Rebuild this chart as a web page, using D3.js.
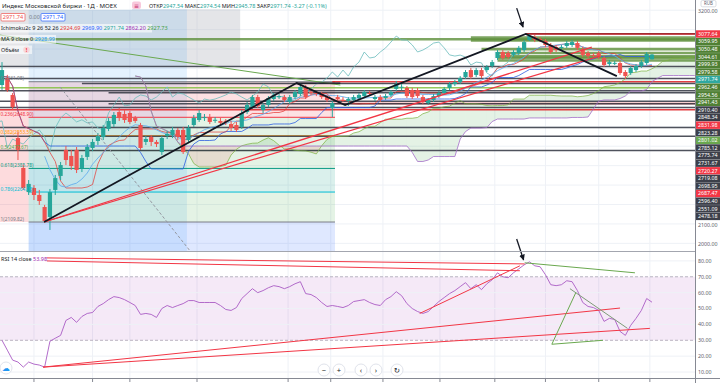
<!DOCTYPE html>
<html>
<head>
<meta charset="utf-8">
<script src="https://cdn.jsdelivr.net/npm/d3@7"></script>
<style>
  body { margin: 0; background: #fff; }
  svg { display: block; font-family: "Noto Sans", "DejaVu Sans", sans-serif; }
</style>
</head>
<body>
<div id="container"></div>
<script>
// daily candles of the MOEX index
var opens = [2815, 2851, 2764, 2542, 2388, 2264, 2285, 2249, 2187, 2136,
  2275, 2347, 2481, 2450, 2481, 2388, 2445, 2491, 2527, 2547,
  2589, 2614, 2676, 2666, 2671, 2645, 2609, 2522, 2548, 2522,
  2470, 2553, 2558, 2584, 2584, 2532, 2609, 2635, 2645, 2650,
  2635, 2630, 2631, 2614, 2609, 2599, 2676, 2702, 2753, 2686,
  2712, 2743, 2753, 2753, 2728, 2753, 2769, 2805, 2779, 2774,
  2769, 2753, 2697, 2753, 2738, 2733, 2738, 2748, 2758, 2774,
  2743, 2753, 2748, 2764, 2795, 2805, 2800, 2789, 2789, 2753,
  2722, 2738, 2758, 2774, 2800, 2820, 2830, 2856, 2892, 2867,
  2892, 2892, 2913, 2954, 2985, 2980, 2970, 2980, 2995, 3047,
  3062, 3052, 3042, 3021, 3011, 3006, 3016, 3021, 3031, 3000,
  2980, 2970, 2980, 2954, 2923, 2928, 2928, 2882, 2877, 2892,
  2913, 2928, 2947.54];
var highs = [2933, 2867, 2774, 2573, 2403, 2326, 2300, 2275, 2198, 2280,
  2352, 2419, 2501, 2481, 2496, 2455, 2511, 2537, 2568, 2609,
  2645, 2676, 2697, 2686, 2681, 2656, 2620, 2553, 2558, 2532,
  2553, 2578, 2599, 2594, 2599, 2609, 2661, 2686, 2666, 2666,
  2650, 2645, 2640, 2630, 2625, 2686, 2728, 2764, 2764, 2722,
  2758, 2774, 2769, 2764, 2764, 2789, 2825, 2815, 2789, 2784,
  2779, 2764, 2733, 2764, 2753, 2753, 2764, 2774, 2789, 2784,
  2764, 2764, 2769, 2789, 2836, 2820, 2810, 2800, 2800, 2764,
  2748, 2769, 2784, 2805, 2830, 2841, 2861, 2892, 2903, 2903,
  2903, 2918, 2944, 2995, 2995, 2990, 2995, 3016, 3047, 3077.64,
  3072, 3062, 3052, 3031, 3021, 3021, 3042, 3047, 3042, 3011,
  2990, 2980, 2990, 2964, 2944, 2939, 2939, 2892, 2913, 2923,
  2944, 2985, 2974.54];
var lows = [2790, 2779, 2686, 2429, 2275, 2249, 2223, 2198, 2109.82, 2069,
  2249, 2326, 2403, 2378, 2362, 2367, 2429, 2475, 2506, 2532,
  2578, 2599, 2630, 2620, 2614, 2620, 2481, 2506, 2501, 2496,
  2455, 2537, 2542, 2532, 2460, 2522, 2599, 2625, 2630, 2614,
  2620, 2609, 2609, 2578, 2573, 2589, 2666, 2692, 2697, 2671,
  2702, 2733, 2743, 2728, 2717, 2743, 2758, 2743, 2764, 2758,
  2743, 2728, 2650, 2733, 2728, 2707, 2728, 2738, 2748, 2758,
  2733, 2728, 2738, 2753, 2784, 2789, 2748, 2743, 2748, 2717,
  2712, 2728, 2748, 2764, 2789, 2810, 2820, 2846, 2846, 2856,
  2851, 2882, 2903, 2944, 2944, 2949, 2959, 2970, 2985, 3042,
  3036, 3036, 3011, 2975, 2985, 2995, 3006, 3011, 2995, 2959,
  2954, 2959, 2949, 2908, 2913, 2918, 2867, 2846, 2867, 2882,
  2903, 2918, 2945.78];
var closes = [2892, 2789, 2702, 2481, 2285, 2306, 2249, 2218, 2115, 2264,
  2336, 2403, 2429, 2398, 2378, 2439, 2496, 2522, 2553, 2594,
  2630, 2661, 2645, 2635, 2625, 2630, 2491, 2537, 2522, 2511,
  2542, 2563, 2584, 2548, 2470, 2594, 2645, 2671, 2650, 2625,
  2636, 2620, 2625, 2594, 2584, 2671, 2712, 2753, 2707, 2712,
  2748, 2764, 2758, 2738, 2753, 2779, 2805, 2753, 2774, 2769,
  2753, 2738, 2722, 2743, 2737, 2743, 2753, 2764, 2779, 2769,
  2753, 2738, 2758, 2779, 2820, 2806, 2758, 2753, 2758, 2728,
  2738, 2758, 2774, 2795, 2820, 2830, 2851, 2882, 2856, 2892,
  2861, 2908, 2933, 2985, 2954, 2959, 2985, 3006, 3036, 3067,
  3047, 3046, 3021, 2985, 2995, 3011, 3031, 3036, 3006, 2970,
  2964, 2969, 2959, 2918, 2933, 2929, 2877, 2861, 2903, 2913,
  2933, 2975.01, 2971.74];

// RSI 14 close, one value per candle
var rsiValues = [30, 23.8, 17.5, 16.3, 13.1, 16.3, 15, 14.4, 13.1, 29.4,
  31.3, 33.1, 42.5, 44.4, 41.3, 45, 46.9, 47.5, 51.3, 53.1,
  55.6, 57.5, 56.9, 55.6, 53.8, 51.9, 46.3, 46.9, 46.3, 44.4,
  50, 51.9, 50.6, 51.9, 53.1, 55, 55, 53.8, 53.8, 53.8,
  53.8, 51.9, 49.4, 48.8, 50.6, 56.3, 59.4, 62.5, 60, 61.3,
  63.1, 64.4, 63.8, 62.5, 63.8, 65.6, 66.9, 59.4, 58.8, 56.9,
  53.8, 51.3, 51.9, 51.3, 50.6, 51.9, 54.4, 55, 55.6, 53.8,
  52.5, 51.9, 55.6, 57.5, 60.6, 58.1, 53.1, 50, 48.1, 46.9,
  48.1, 51.3, 54.4, 56.9, 59.4, 61.3, 63.8, 66.3, 62.5, 65,
  61.9, 65.6, 68.1, 72.5, 70, 69.4, 72.5, 75, 77.5, 79.4,
  76.9, 76.3, 71.3, 65, 64.4, 65, 67.5, 66.9, 61.3, 53.8,
  51.3, 50.6, 48.8, 41.9, 43.8, 43.1, 35.6, 33.1, 39.4, 43.8,
  48.8, 56.3, 53.98];

// horizontal levels drawn on the chart: price, kind, first bar
var levelPrices = [3079, 3077.64, 3059.95, 3050.48, 3044.61, 2999.93, 2979.58, 2962.46, 2954.56, 2941.43,
  2910.40, 2848.34, 2831.98, 2823.28, 2801.02, 2785.12, 2775.74, 2731.67, 2720.27, 2719.08,
  2698.95, 2687.47, 2596.40, 2551.09, 2478.18];
var levelKinds = ["black", "red", "green", "green", "green", "green", "green", "green", "green", "green",
  "dark", "dark", "red", "dark", "lime", "dark", "dark", "dark", "red", "dark",
  "dark", "red", "dark", "dark", "dark"];
var levelFrom = [98.3, 98.3, 88, -5, 88, 90, 93, 93, 93, 93,
  -5, -5, 62, 15, -5, -5, 20, -5, 62, 20,
  -5, -5, -5, -5, -5];

// fibonacci retracement
var fibNames = ["0", "0.236", "0.382", "0.5", "0.618", "0.786", "1"];
var fibPrices = [2831.98, 2648.90, 2553.59, 2477.67, 2385.78, 2264.18, 2109.82];
var fibBars = [5, 62.5];

// trend lines as [bar, price]
var blackPath = [[7.9, 2109.82], [55.3, 2825], [64.4, 2712], [98.3, 3077.64], [115.4, 2861]];
var blackFlat = [[55.3, 2825], [63.5, 2825]];
var redLineA = [[7.9, 2109.82], [110.7, 3010]];
var redLineB = [[7.9, 2109.82], [112.2, 2964]];
var greenLine = [[-0.4, 3072], [63.5, 2815]];
var dashLine = [[10.9, 2805], [35.3, 1961]];
var priceArrow = [[96.6, 3211], [97.8, 3113]];

// trend lines on the RSI pane as [bar, rsi]
var rsiRedA = [[7.7, 13.1], [116, 50.3]];
var rsiRedB = [[7.7, 13.1], [121.6, 37.5]];
var rsiRedUp = [[78.4, 46.9], [97.2, 76.9]];
var rsiRedTop1 = [[8.1, 81.9], [98.1, 78.1]];
var rsiRedTop2 = [[8.1, 80], [97.2, 73.8]];
var rsiGreenA = [[98.1, 78.8], [118.8, 72.5]];
var rsiGreenB = [[107.7, 60], [103.2, 27.5], [112.8, 30]];
var rsiGreenC = [[106.6, 62.5], [117.4, 37.5]];
var rsiArrow = [[96.6, 93.8], [97.9, 80.6]];

// shaded zones: [bar from, bar to, price top, price bottom]
var grayZone = [-1, 44.7, 3205, 2910];
var blueZone = [5, 34.7, 3205, 1961];
var pinkZone = [-1, 5, 2687.47, 2109.82];

// time grid (bar positions of the date ticks)
var gridBars = [6, 17, 24, 36.6, 53.7, 61.7, 71.5, 82.2, 92.5, 102, 112, 121.6];
var priceTicks = d3.range(2000, 3300, 100);
var rsiTicks = [10, 20, 30, 40, 50, 60, 70, 80];

var plotRight = 695, priceBottom = 251, rsiTop = 252, rsiBottom = 378;
var up = "#26a69a", down = "#ef5350";

var x = d3.scaleLinear().domain([0, 122]).range([2, 652]);
var y = d3.scaleLinear().domain([1960.7, 3252.6]).range([priceBottom, 0]);
var yR = d3.scaleLinear().domain([6.25, 85.6]).range([rsiBottom, rsiTop]);

var svg = d3.select("div#container").append("svg")
  .attr("width", 720).attr("height", 383);

var defs = svg.append("defs");
defs.append("clipPath").attr("id", "clipP").append("rect")
  .attr("x", 0).attr("y", 0).attr("width", plotRight).attr("height", priceBottom);
defs.append("clipPath").attr("id", "clipR").append("rect")
  .attr("x", 0).attr("y", rsiTop).attr("width", plotRight).attr("height", rsiBottom - rsiTop);
defs.append("marker").attr("id", "arrow").attr("viewBox", "0 0 10 10")
  .attr("refX", 9).attr("refY", 5).attr("markerWidth", 4.5).attr("markerHeight", 4.5)
  .attr("orient", "auto")
  .append("path").attr("d", "M0,0L10,5L0,10z").attr("fill", "#131722");

svg.append("rect").attr("width", 720).attr("height", 383).attr("fill", "#fff");

var pline = d3.line().x(function(d) { return x(d[0]); }).y(function(d) { return y(d[1]); });
var rline = d3.line().x(function(d) { return x(d[0]); }).y(function(d) { return yR(d[1]); });

// ---------- price pane ----------
var gp = svg.append("g").attr("clip-path", "url(#clipP)");

gp.selectAll(".vg").data(gridBars).join("line")
  .attr("x1", function(d) { return x(d); }).attr("x2", function(d) { return x(d); })
  .attr("y1", 0).attr("y2", priceBottom)
  .attr("stroke", "#eef1f6");
gp.selectAll(".hg").data(priceTicks).join("line")
  .attr("x1", 0).attr("x2", plotRight)
  .attr("y1", function(d) { return y(d); }).attr("y2", function(d) { return y(d); })
  .attr("stroke", "#eef1f6");

function zone(z, color, op) {
  gp.append("rect")
    .attr("x", x(z[0])).attr("width", x(z[1]) - x(z[0]))
    .attr("y", y(z[2])).attr("height", y(z[3]) - y(z[2]))
    .attr("fill", color).attr("fill-opacity", op);
}
zone(grayZone, "#b2b5be", 0.35);
zone(blueZone, "#2196f3", 0.12);
zone(pinkZone, "#f23645", 0.18);

// fib bands
var fibColors = ["#f23645", "#4caf50", "#4caf50", "#4caf50", "#089981", "#4caf50", "#2962ff"];
var fibLineColors = ["#787b86", "#f23645", "#ff9800", "#4caf50", "#089981", "#00bcd4", "#787b86"];
var fibBandEdges = fibPrices.concat([1960]);
fibPrices.forEach(function(p, k) {
  gp.append("rect")
    .attr("x", x(fibBars[0])).attr("width", x(fibBars[1]) - x(fibBars[0]))
    .attr("y", y(p)).attr("height", y(fibBandEdges[k + 1]) - y(p))
    .attr("fill", fibColors[k]).attr("fill-opacity", 0.15);
});
gp.selectAll(".fibl").data(fibPrices).join("line")
  .attr("x1", x(fibBars[0])).attr("x2", x(fibBars[1]))
  .attr("y1", function(d) { return y(d); }).attr("y2", function(d) { return y(d); })
  .attr("stroke", function(d, k) { return fibLineColors[k]; }).attr("stroke-width", 1);

// ichimoku from the candles
function mid(len, i) {
  var s = Math.max(0, i - len + 1);
  return (d3.max(highs.slice(s, i + 1)) + d3.min(lows.slice(s, i + 1))) / 2;
}
var bars = d3.range(closes.length);
var tenkan = bars.map(function(i) { return mid(9, i); });
var kijun = bars.map(function(i) { return mid(26, i); });
var spanA = bars.map(function(i) { return (tenkan[i] + kijun[i]) / 2; });
var spanB = bars.map(function(i) { return mid(52, i); });
var shift = 25;

gp.append("g").selectAll("path").data(bars.slice(0, -1)).join("path")
  .attr("d", function(i) {
    return "M" + x(i + shift) + "," + y(spanA[i]) +
      "L" + x(i + 1 + shift) + "," + y(spanA[i + 1]) +
      "L" + x(i + 1 + shift) + "," + y(spanB[i + 1]) +
      "L" + x(i + shift) + "," + y(spanB[i]) + "Z";
  })
  .attr("fill", function(i) { return spanA[i] + spanA[i + 1] >= spanB[i] + spanB[i + 1] ? "#43a047" : "#ef5350"; })
  .attr("fill-opacity", 0.14);

// horizontal levels
var levelStroke = { black: "#131722", red: "#e0282e", green: "#5d8f3a", dark: "#3c3f4a", lime: "#8bc34a" };
var levelWidth = { black: 1.4, red: 1.4, green: 2.6, dark: 1.5, lime: 1.3 };
gp.selectAll(".lvl").data(levelPrices).join("line")
  .attr("x1", function(d, k) { return x(levelFrom[k]); }).attr("x2", plotRight)
  .attr("y1", function(d) { return y(d); }).attr("y2", function(d) { return y(d); })
  .attr("stroke", function(d, k) { return levelStroke[levelKinds[k]]; })
  .attr("stroke-width", function(d, k) { return levelWidth[levelKinds[k]]; })
  .attr("stroke-opacity", function(d, k) { return levelKinds[k] === "green" ? 0.8 : 0.9; });

// indicator lines
function series(vals, off, start) {
  return bars.filter(function(i) { return i >= start; }).map(function(i) { return [i + off, vals[i]]; });
}
var ma9 = bars.map(function(i) { return i < 8 ? null : d3.mean(closes.slice(i - 8, i + 1)); });
[[series(closes, -shift, 0), "#6cbcbc", 0.9],
 [series(spanA, shift, 0), "#7cb342", 0.8],
 [series(spanB, shift, 0), "#a56fc8", 0.9],
 [series(kijun, 0, 0), "#2f5fe0", 0.9],
 [series(tenkan, 0, 0), "#e53935", 0.8],
 [series(ma9, 0, 8), "#5aa9ee", 0.9]].forEach(function(s) {
  gp.append("path").attr("d", pline(s[0])).attr("fill", "none")
    .attr("stroke", s[1]).attr("stroke-opacity", s[2]).attr("stroke-width", 0.9);
});

// candles
var candle = gp.append("g").selectAll("g").data(bars).join("g");
candle.append("line")
  .attr("x1", function(i) { return x(i); }).attr("x2", function(i) { return x(i); })
  .attr("y1", function(i) { return y(highs[i]); }).attr("y2", function(i) { return y(lows[i]); })
  .attr("stroke", function(i) { return closes[i] >= opens[i] ? up : down; });
candle.append("rect")
  .attr("x", function(i) { return x(i) - 2.1; }).attr("width", 4.2)
  .attr("y", function(i) { return y(Math.max(opens[i], closes[i])); })
  .attr("height", function(i) { return Math.max(1, Math.abs(y(opens[i]) - y(closes[i]))); })
  .attr("fill", function(i) { return closes[i] >= opens[i] ? up : down; });

// drawings
gp.append("path").attr("d", pline(greenLine)).attr("fill", "none").attr("stroke", "#6aa84f").attr("stroke-width", 1);
gp.append("path").attr("d", pline(dashLine)).attr("fill", "none").attr("stroke", "#9598a1").attr("stroke-dasharray", "3,2");
gp.append("path").attr("d", pline(redLineA)).attr("fill", "none").attr("stroke", "#f23645").attr("stroke-width", 1.2);
gp.append("path").attr("d", pline(redLineB)).attr("fill", "none").attr("stroke", "#f23645").attr("stroke-width", 1.2);
gp.append("path").attr("d", pline(blackPath)).attr("fill", "none").attr("stroke", "#131722").attr("stroke-width", 1.8);
gp.append("path").attr("d", pline(blackFlat)).attr("fill", "none").attr("stroke", "#131722").attr("stroke-width", 1.4);
gp.append("path").attr("d", pline(priceArrow)).attr("stroke", "#131722").attr("stroke-width", 1.3)
  .attr("marker-end", "url(#arrow)");

// fib labels, drawn at the left edge of the pane
gp.selectAll(".fibt").data(fibPrices).join("text")
  .attr("x", 0.5).attr("y", function(d) { return y(d) - 1.5; })
  .attr("font-size", 4.8)
  .attr("fill", function(d, k) { return fibLineColors[k]; })
  .text(function(d, k) { return fibNames[k] + "(" + d.toFixed(2) + ")"; });

// ---------- RSI pane ----------
var gr = svg.append("g").attr("clip-path", "url(#clipR)");
gr.selectAll(".vg").data(gridBars).join("line")
  .attr("x1", function(d) { return x(d); }).attr("x2", function(d) { return x(d); })
  .attr("y1", rsiTop).attr("y2", rsiBottom).attr("stroke", "#eef1f6");
gr.append("rect").attr("x", 0).attr("width", plotRight)
  .attr("y", yR(70)).attr("height", yR(30) - yR(70))
  .attr("fill", "#9c27b0").attr("fill-opacity", 0.1);
gr.selectAll(".hg").data(rsiTicks).join("line")
  .attr("x1", 0).attr("x2", plotRight)
  .attr("y1", function(d) { return yR(d); }).attr("y2", function(d) { return yR(d); })
  .attr("stroke", function(d) { return d === 30 || d === 70 ? "#b9b3c0" : "#eef1f6"; })
  .attr("stroke-dasharray", function(d) { return d === 30 || d === 70 ? "3,2" : null; });

gr.append("path").attr("d", rline(bars.map(function(i) { return [i, rsiValues[i]]; })))
  .attr("fill", "none").attr("stroke", "#a95bc4").attr("stroke-width", 0.9);

[[rsiRedA, "#f23645"], [rsiRedB, "#f23645"], [rsiRedUp, "#f23645"], [rsiRedTop1, "#f23645"],
 [rsiRedTop2, "#f23645"], [rsiGreenA, "#6aa84f"], [rsiGreenB, "#6aa84f"], [rsiGreenC, "#7e9a78"]].forEach(function(s) {
  gr.append("path").attr("d", rline(s[0])).attr("fill", "none").attr("stroke", s[1]).attr("stroke-width", 1);
});

svg.append("path").attr("d", rline(rsiArrow)).attr("stroke", "#131722").attr("stroke-width", 1.3)
  .attr("marker-end", "url(#arrow)");

// pane frames
svg.append("line").attr("x1", 0).attr("x2", 720).attr("y1", 251.5).attr("y2", 251.5)
  .attr("stroke", "#a3a6af").attr("stroke-width", 1.2);
svg.append("line").attr("x1", 0).attr("x2", 720).attr("y1", 378.5).attr("y2", 378.5)
  .attr("stroke", "#868993");
svg.selectAll(".tt").data(gridBars).join("line")
  .attr("x1", function(d) { return x(d); }).attr("x2", function(d) { return x(d); })
  .attr("y1", 379).attr("y2", 382).attr("stroke", "#868993");
svg.append("rect").attr("x", 696).attr("y", 0).attr("width", 24).attr("height", 378).attr("fill", "#fff");
svg.append("line").attr("x1", 695.5).attr("x2", 695.5).attr("y1", 0).attr("y2", 383)
  .attr("stroke", "#868993");

// price axis: colored level labels stack, plain ticks only where they stay free
var labelFill = { red: "#f23645", green: "#4f8034", dark: "#3c3f4a", lime: "#6aa84f", last: "#2fa8a0" };
var axisLabels = levelPrices.map(function(p, k) { return { p: p, kind: levelKinds[k] }; })
  .filter(function(d) { return d.kind !== "black"; });
axisLabels.push({ p: closes[closes.length - 1], kind: "last" });
axisLabels.sort(function(a, b) { return b.p - a.p; });
var prev = -Infinity, lh = 7.6;
axisLabels.forEach(function(d) { d.cy = Math.max(y(d.p), prev + lh); prev = d.cy; });

var freeTicks = priceTicks.filter(function(t) {
  return axisLabels.every(function(d) { return Math.abs(d.cy - y(t)) > 7; });
});
svg.selectAll(".pt").data(freeTicks).join("text")
  .attr("x", 698).attr("y", function(d) { return y(d) + 1; }).attr("dy", "0.35em")
  .attr("font-size", 5.3).attr("fill", "#5d606b")
  .text(function(d) { return d.toFixed(2); });

var lab = svg.append("g").selectAll("g").data(axisLabels).join("g");
lab.append("rect").attr("x", 696).attr("width", 24)
  .attr("y", function(d) { return d.cy - 3.7; }).attr("height", 7.4)
  .attr("fill", function(d) { return labelFill[d.kind]; });
lab.append("text").attr("x", 698).attr("y", function(d) { return d.cy; }).attr("dy", "0.35em")
  .attr("font-size", 5.3).attr("fill", "#fff")
  .text(function(d) { return d.p.toFixed(2); });

svg.append("rect").attr("x", 701).attr("y", 0.5).attr("width", 15).attr("height", 6.3).attr("rx", 1.5)
  .attr("fill", "#fff").attr("stroke", "#d1d4dc").attr("stroke-width", 0.8);
svg.append("text").attr("x", 708.5).attr("y", 5.3).attr("text-anchor", "middle")
  .attr("font-size", 4.4).attr("fill", "#5d606b").text("RUB");

// rsi axis
svg.selectAll(".rt").data(rsiTicks).join("text")
  .attr("x", 698).attr("y", function(d) { return yR(d); }).attr("dy", "0.35em")
  .attr("font-size", 5.3).attr("fill", "#5d606b")
  .text(function(d) { return d.toFixed(2); });

// ---------- legends ----------
var fs = 5.5;
svg.append("rect").attr("x", 0).attr("y", 0).attr("width", 132).attr("height", 10).attr("fill", "#fff").attr("fill-opacity", 0.6);
svg.append("text").attr("x", 2).attr("y", 7.5).attr("font-size", 6.1).attr("fill", "#131722")
  .text("Индекс Московской биржи · 1Д · MOEX");
svg.append("rect").attr("x", 132).attr("y", 1.5).attr("width", 9).attr("height", 7.5).attr("rx", 2).attr("fill", "#f8c8dc");
svg.append("text").attr("x", 136.5).attr("y", 7.6).attr("text-anchor", "middle").attr("font-size", 6).attr("fill", "#c2185b").text("≡");

var ohlc = svg.append("text").attr("x", 149).attr("y", 7.5).attr("font-size", fs);
[["ОТКР", "#131722"], ["2947.54 ", up], ["МАКС", "#131722"], ["2974.54 ", up], ["МИН", "#131722"], ["2945.78 ", up],
 ["ЗАКР", "#131722"], ["2971.74 -3.27 (-0.11%)", up]].forEach(function(t) {
  ohlc.append("tspan").attr("fill", t[1]).text(t[0]);
});

svg.append("rect").attr("x", 1).attr("y", 13.5).attr("width", 24).attr("height", 7.5).attr("rx", 1).attr("fill", "#fff").attr("stroke", "#ef5350").attr("stroke-width", 0.7);
svg.append("text").attr("x", 13).attr("y", 19.3).attr("text-anchor", "middle").attr("font-size", fs).attr("fill", "#ef5350").text("2971.74");
svg.append("text").attr("x", 29).attr("y", 19.3).attr("font-size", fs).attr("fill", "#787b86").text("0.00");
svg.append("rect").attr("x", 41).attr("y", 13.5).attr("width", 24).attr("height", 7.5).attr("rx", 1).attr("fill", "#fff").attr("stroke", "#2962ff").attr("stroke-width", 0.7);
svg.append("text").attr("x", 53).attr("y", 19.3).attr("text-anchor", "middle").attr("font-size", fs).attr("fill", "#2962ff").text("2971.74");

svg.append("rect").attr("x", 0).attr("y", 24).attr("width", 152).attr("height", 8.5).attr("fill", "#fff").attr("fill-opacity", 0.6);
var ichi = svg.append("text").attr("x", 1).attr("y", 30.3).attr("font-size", fs);
[["Ichimoku2c 9 26 52 26 ", "#131722"], ["2924.69 ", "#e53935"], ["2969.90 ", "#2962ff"], ["2971.74 ", up],
 ["2862.20 ", "#9c27b0"], ["2927.73", "#43a047"]].forEach(function(t) {
  ichi.append("tspan").attr("fill", t[1]).text(t[0]);
});
svg.append("rect").attr("x", 0).attr("y", 35).attr("width", 56).attr("height", 8.5).attr("fill", "#fff").attr("fill-opacity", 0.6);
var ma = svg.append("text").attr("x", 1).attr("y", 41.3).attr("font-size", fs);
ma.append("tspan").attr("fill", "#131722").text("MA 9 close 0 ");
ma.append("tspan").attr("fill", "#2196f3").text("2928.99");
svg.append("rect").attr("x", 0).attr("y", 45.5).attr("width", 32).attr("height", 8.5).attr("fill", "#fff").attr("fill-opacity", 0.6);
svg.append("text").attr("x", 1).attr("y", 51.8).attr("font-size", fs).attr("fill", "#131722").text("Объём");
svg.append("circle").attr("cx", 26.5).attr("cy", 49.8).attr("r", 3.3).attr("fill", "#f8d7da");
svg.append("text").attr("x", 26.5).attr("y", 52).attr("text-anchor", "middle").attr("font-size", 5.5).attr("font-weight", "bold").attr("fill", "#f23645").text("!");

svg.append("rect").attr("x", 0).attr("y", 254.5).attr("width", 47).attr("height", 8).attr("fill", "#fff").attr("fill-opacity", 0.75);
var rl = svg.append("text").attr("x", 1).attr("y", 260.6).attr("font-size", fs);
rl.append("tspan").attr("fill", "#131722").text("RSI 14 close ");
rl.append("tspan").attr("fill", "#9c27b0").text("53.98");

// navigation buttons
var nav = [["−", 324], ["+", 339], ["‹", 361], ["›", 376], ["↻", 397]];
var nb = svg.append("g").selectAll("g").data(nav).join("g");
nb.append("circle").attr("cx", function(d) { return d[1]; }).attr("cy", 370).attr("r", 6)
  .attr("fill", "#fff").attr("stroke", "#e0e3eb");
nb.append("text").attr("x", function(d) { return d[1]; }).attr("y", 372.5).attr("text-anchor", "middle")
  .attr("font-size", 7.5).attr("fill", "#131722").text(function(d) { return d[0]; });

svg.append("circle").attr("cx", 6).attr("cy", 368).attr("r", 6).attr("fill", "#fff").attr("stroke", "#e0e3eb");
svg.append("text").attr("x", 6).attr("y", 371).attr("text-anchor", "middle").attr("font-size", 8).attr("fill", "#2196f3").text("☁");
</script>
</body>
</html>
